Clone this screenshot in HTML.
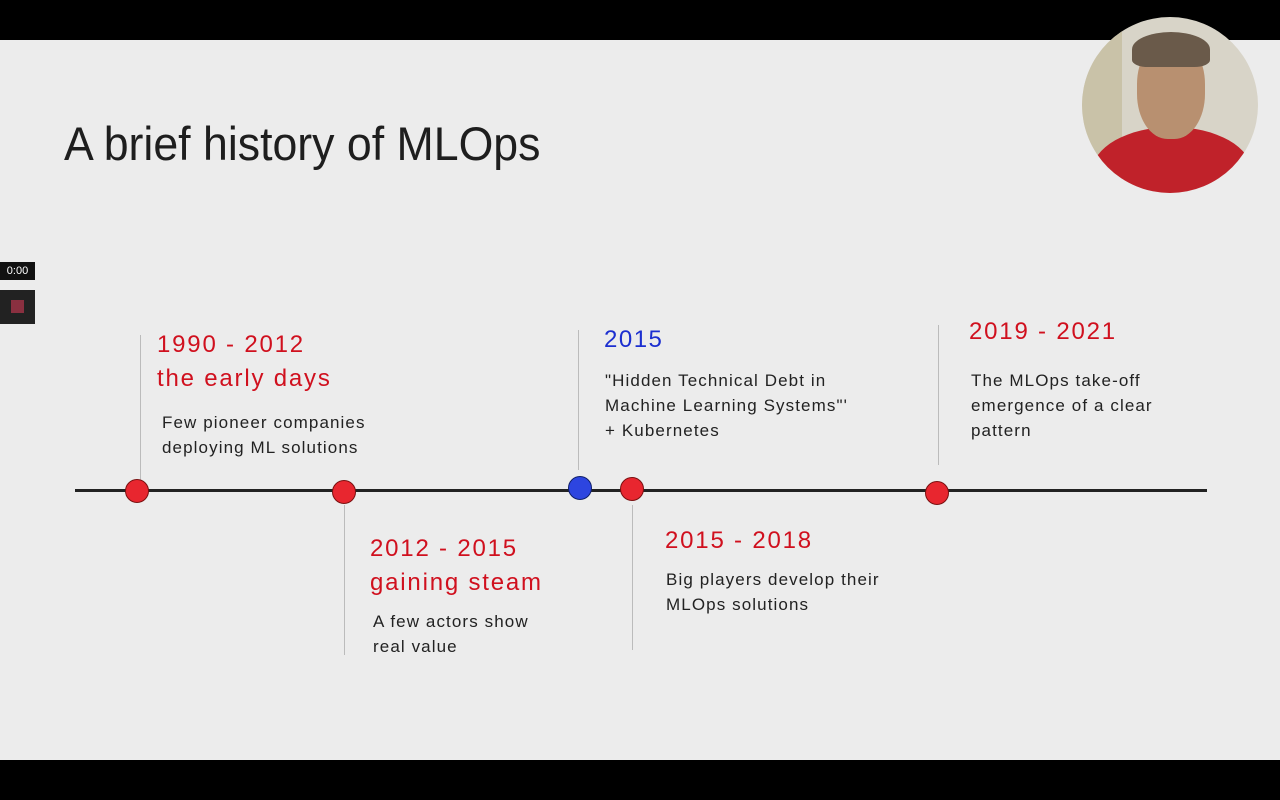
<!DOCTYPE html>
<html><head><meta charset="utf-8"><style>
html,body{margin:0;padding:0}
body{width:1280px;height:800px;position:relative;background:#ececec;overflow:hidden;font-family:"Liberation Sans",sans-serif}
.bar{position:absolute;left:0;width:1280px;background:#000}
.t{position:absolute;white-space:nowrap}
.r{color:#d0101e;font-size:24px;letter-spacing:1.8px}
.b{color:#1c2fd0;font-size:24px;letter-spacing:1.5px}
.d{color:#222;font-size:17px;line-height:25px;letter-spacing:1.1px}
.v{position:absolute;width:1px;background:#bbb}
.dot{position:absolute;width:24px;height:24px;border-radius:50%;background:#e8262f;border:1.5px solid #7a1010;box-sizing:border-box}
</style></head><body>
<div class="bar" style="top:0;height:40px"></div>
<div class="bar" style="top:760px;height:40px"></div>
<div class="t" style="left:64px;top:116px;font-size:47px;color:#1e1e1e;transform:scaleX(0.95);transform-origin:0 0">A brief history of MLOps</div>
<div style="position:absolute;left:1082px;top:17px;width:176px;height:176px;border-radius:50%;overflow:hidden;background:#d8d4c8">
<div style="position:absolute;left:0;top:0;width:40px;height:176px;background:#c9c2a8"></div>
<div style="position:absolute;left:10px;top:110px;width:160px;height:90px;border-radius:50% 50% 0 0;background:#c0222a"></div>
<div style="position:absolute;left:55px;top:22px;width:68px;height:100px;border-radius:45%;background:#b89070"></div>
<div style="position:absolute;left:50px;top:15px;width:78px;height:35px;border-radius:50% 50% 20% 20%;background:#6a5a4a"></div>
</div>
<div class="t" style="left:0;top:262px;width:35px;height:18px;background:#111;color:#fff;font-size:11px;text-align:center;line-height:18px">0:00</div>
<div style="position:absolute;left:0;top:290px;width:35px;height:34px;background:#222"><div style="position:absolute;left:11px;top:10px;width:13px;height:13px;background:#8a3040"></div></div>
<div style="position:absolute;left:75px;top:489px;width:1132px;height:3px;background:#222"></div>
<div class="v" style="left:140px;top:335px;height:145px"></div>
<div class="v" style="left:344px;top:505px;height:150px"></div>
<div class="v" style="left:578px;top:330px;height:140px"></div>
<div class="v" style="left:632px;top:505px;height:145px"></div>
<div class="v" style="left:938px;top:325px;height:140px"></div>
<div class="dot" style="left:125px;top:479px"></div>
<div class="dot" style="left:332px;top:480px"></div>
<div class="dot" style="left:568px;top:476px;background:#2d45e0;border-color:#10206a"></div>
<div class="dot" style="left:620px;top:477px"></div>
<div class="dot" style="left:925px;top:481px"></div>
<div class="t r" style="left:157px;top:328px;line-height:34px">1990 - 2012<br>the early days</div>
<div class="t d" style="left:162px;top:410px">Few pioneer companies<br>deploying ML solutions</div>
<div class="t r" style="left:370px;top:532px;line-height:34px">2012 - 2015<br>gaining steam</div>
<div class="t d" style="left:373px;top:609px">A few actors show<br>real value</div>
<div class="t b" style="left:604px;top:326px">2015</div>
<div class="t d" style="left:605px;top:368px">"Hidden Technical Debt in<br>Machine Learning Systems"'<br>+ Kubernetes</div>
<div class="t r" style="left:665px;top:527px">2015 - 2018</div>
<div class="t d" style="left:666px;top:567px">Big players develop their<br>MLOps solutions</div>
<div class="t r" style="left:969px;top:318px">2019 - 2021</div>
<div class="t d" style="left:971px;top:368px">The MLOps take-off<br>emergence of a clear<br>pattern</div>
</body></html>
